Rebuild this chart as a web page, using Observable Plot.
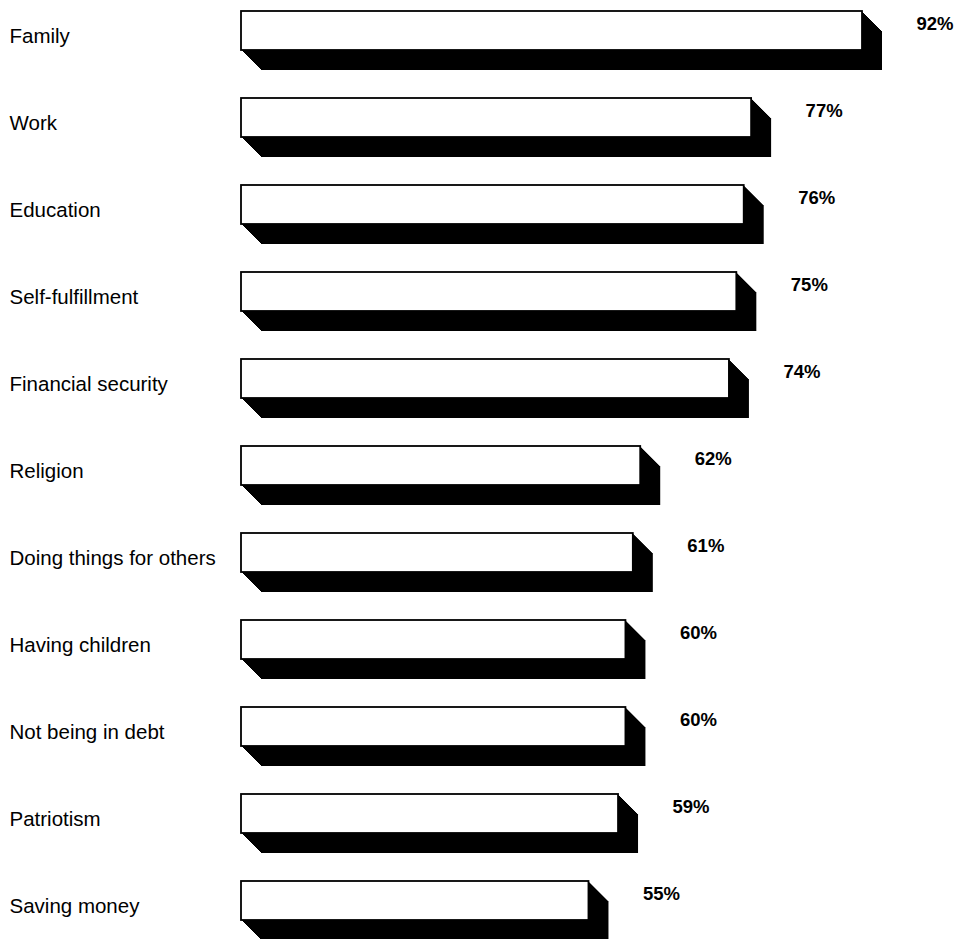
<!DOCTYPE html>
<html><head><meta charset="utf-8">
<script src="https://cdn.jsdelivr.net/npm/d3@7"></script>
<script src="https://cdn.jsdelivr.net/npm/@observablehq/plot@0.6"></script>
<style>body{margin:0;background:#fff}</style>
</head><body><div id="chart"></div>
<script>
const categories = ["Family","Work","Education","Self-fulfillment","Financial security","Religion","Doing things for others","Having children","Not being in debt","Patriotism","Saving money"];
const values = [92,77,76,75,74,62,61,60,60,59,55];
const valueLabels = ["92%","77%","76%","75%","74%","62%","61%","60%","60%","59%","55%"];

const data = categories.map((c, i) => ({category: c, value: values[i], label: valueLabels[i]}));
const xStart = 8;
const depth = 20;
const inset = 24;

const shadowMarks = d3.range(1, depth + 1).map(i =>
  Plot.barX(data, {x1: () => xStart, x2: "value", y: "category", fill: "black", insetTop: inset, insetBottom: inset, dx: i, dy: i})
);

const chart = Plot.plot({
  width: 954,
  height: 939,
  margin: 0,
  x: {domain: [xStart, 92], range: [241, 862], axis: null},
  y: {type: "band", domain: categories, range: [-15, 945], padding: 0, axis: null},
  style: {fontFamily: "'Liberation Sans', Arial, Helvetica, sans-serif", background: "white", color: "black"},
  marks: [
    ...shadowMarks,
    Plot.barX(data, {x1: () => xStart, x2: "value", y: "category", fill: "white", stroke: "black", strokeWidth: 1.8, insetTop: inset, insetBottom: inset}),
    Plot.text(data, {y: "category", text: "category", frameAnchor: "left", dx: 9, dy: 5, textAnchor: "start", fontSize: 20.5, fill: "black"}),
    Plot.text(data, {x: "value", y: "category", text: "label", dx: 54, dy: -7, textAnchor: "start", fontSize: 18.5, fontWeight: "bold", fill: "black"})
  ]
});
document.getElementById("chart").appendChild(chart);
</script>
</body></html>
